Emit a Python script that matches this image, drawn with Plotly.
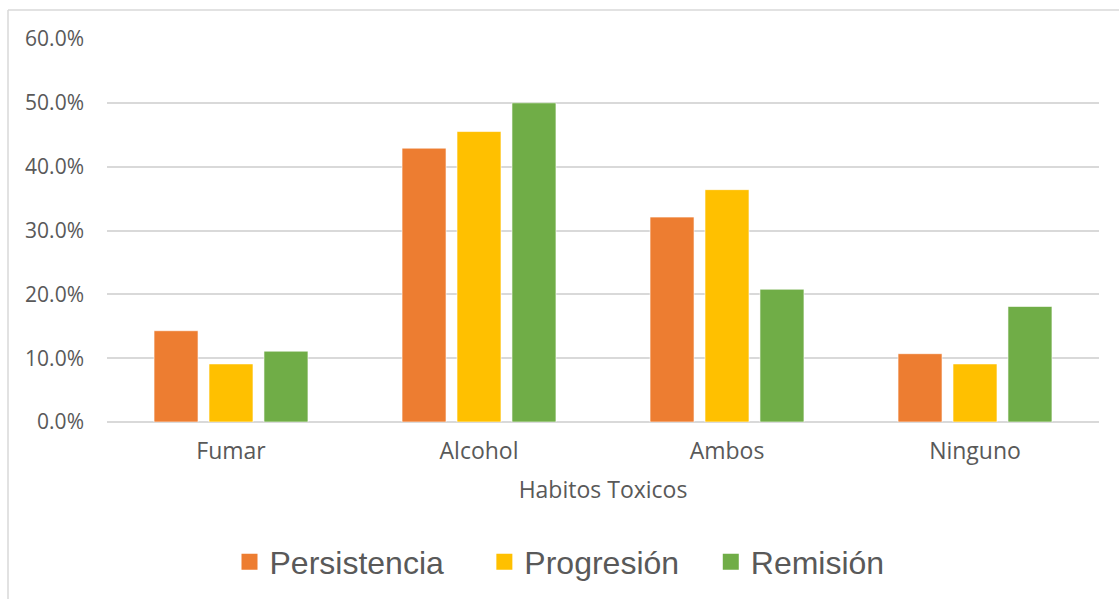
import plotly.graph_objects as go

categories = ["Fumar", "Alcohol", "Ambos", "Ninguno"]
persistencia = [0.143, 0.429, 0.321, 0.107]
progresion = [0.091, 0.455, 0.364, 0.091]
remision = [0.111, 0.500, 0.208, 0.181]
series_names = ["Persistencia", "Progresión", "Remisión"]
legend_labels = ["Persistencia\u00a0\u00a0\u00a0\u00a0", "Progresión\u00a0\u00a0\u00a0", "Remisión"]
colors = ["#ED7D31", "#FFC000", "#70AD47"]
y_ticks = [0, 0.1, 0.2, 0.3, 0.4, 0.5, 0.6]

fig = go.Figure()
for name, vals, col in zip(series_names, [persistencia, progresion, remision], colors):
    fig.add_trace(go.Bar(
        x=categories, y=vals, name=name, showlegend=False,
        marker=dict(color=col, line=dict(color="rgba(255,255,255,0.6)", width=1)),
    ))
# legend entries with larger square swatches
for label, col in zip(legend_labels, colors):
    fig.add_trace(go.Scatter(
        x=[None], y=[None], mode="markers", name=label,
        marker=dict(symbol="square", size=16, color=col),
    ))

grid = "#d9d9d9"
fig.update_layout(
    width=1119, height=599,
    margin=dict(l=107, r=20, t=39, b=177),
    paper_bgcolor="white", plot_bgcolor="white",
    barmode="group", bargap=0.335, bargroupgap=0.2,
    font=dict(family="Open Sans", color="#595959", size=20),
    xaxis=dict(
        type="category", showgrid=False, showline=False, zeroline=False,
        tickfont=dict(size=23, color="#595959"), ticks="", ticklabelstandoff=13,
        title=dict(text="Habitos Toxicos", font=dict(size=23, color="#595959"), standoff=16),
        automargin=False,
    ),
    yaxis=dict(
        range=[0, 0.6], tickvals=y_ticks, tickformat=".1%",
        showgrid=True, gridcolor=grid, gridwidth=1.5,
        zeroline=True, zerolinecolor=grid, zerolinewidth=1.5,
        showline=False, ticks="", ticklabelstandoff=22,
        tickfont=dict(size=21, color="#595959"), automargin=False,
    ),
    legend=dict(
        orientation="h", xref="container", x=0.5, xanchor="center",
        yref="container", y=(599 - 562) / 599, yanchor="middle",
        font=dict(family="Liberation Sans, Arial", size=32, color="#595959"),
        itemsizing="trace",
    ),
    shapes=[
        dict(type="line", xref="paper", yref="paper",
             x0=(8 - 107) / 992, x1=(8 - 107) / 992, y0=1 + (39 - 10) / 383, y1=1 - (620 - 39) / 383,
             line=dict(color=grid, width=1.5)),
        dict(type="line", xref="paper", yref="paper",
             x0=(8 - 107) / 992, x1=(1130 - 107) / 992, y0=1 + (39 - 10) / 383, y1=1 + (39 - 10) / 383,
             line=dict(color=grid, width=1.5)),
    ],
)

fig.write_html("out.html")
